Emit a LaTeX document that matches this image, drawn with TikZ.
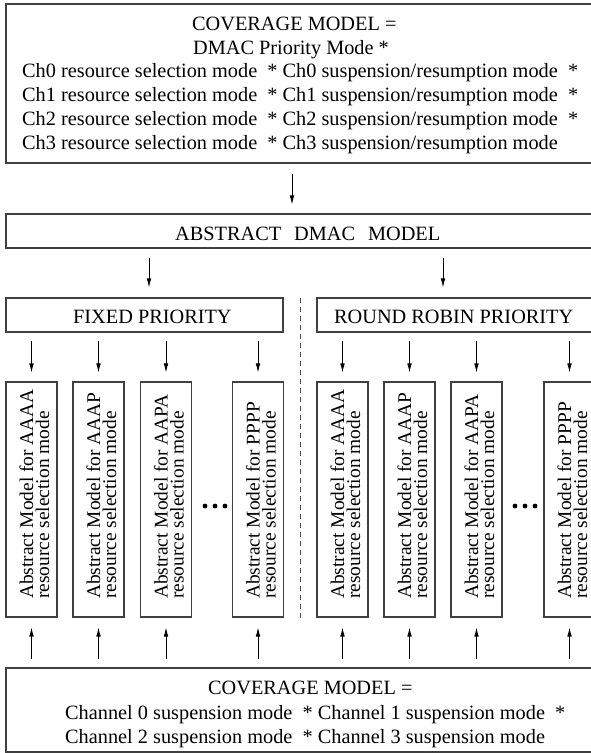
\documentclass[tikz,border=0pt]{standalone}
\usepackage{fontspec}
\setmainfont{Liberation Serif}
\usetikzlibrary{arrows.meta}
\begin{document}
\begin{tikzpicture}[x=1pt,y=-1pt,
  box/.style={draw=black!75, line width=1.1pt, inner sep=0pt, rectangle},
  txt/.style={inner sep=0pt, anchor=base west, font=\fontsize{20.3}{24}\selectfont},
  vtxt/.style={inner sep=0pt, anchor=base west, rotate=90, font=\fontsize{19.4}{22}\selectfont},
  arr/.style={-{Latex[length=9pt,width=4.6pt]}, line width=0.8pt},
  dots/.style={fill=black, circle, inner sep=0pt, minimum size=4.8pt}
]
\useasboundingbox (0,0) rectangle (591,753);
\clip (0,0) rectangle (591,753);

% top coverage model
\node[box, minimum width=594pt, minimum height=159pt] (top) at (303,83.5) {};
\node[txt] (t1) at (192,30) {COVERAGE MODEL =};
\node[txt] (t2) at (193,54) {DMAC Priority Mode *};
\node[txt] (t3) at (22,77) {Ch0 resource selection mode\ \ * Ch0 suspension/resumption mode\ \ *};
\node[txt] (t4) at (22,101) {Ch1 resource selection mode\ \ * Ch1 suspension/resumption mode\ \ *};
\node[txt] (t5) at (22,125) {Ch2 resource selection mode\ \ * Ch2 suspension/resumption mode\ \ *};
\node[txt] (t6) at (22,149) {Ch3 resource selection mode\ \ * Ch3 suspension/resumption mode};

% abstract model
\node[box, minimum width=604pt, minimum height=34pt] (abs) at (308,231) {};
\node[txt] (abst) at (175,240) {ABSTRACT\hspace{13pt}DMAC\hspace{13pt}MODEL};

% priority boxes
\node[box, minimum width=277pt, minimum height=34pt] (fp) at (144.5,315) {};
\node[txt] (fpt) at (73,323) {FIXED PRIORITY};
\node[box, minimum width=283pt, minimum height=34pt] (rr) at (458.5,315) {};
\node[txt] (rrt) at (334,323) {ROUND ROBIN PRIORITY};

% arrow x positions
\coordinate (xa) at (292,0);
\coordinate (xb) at (149,0);
\coordinate (xc) at (443,0);
\draw[arr, shorten <=10pt, shorten >=9pt] (top.south -| xa) -- (abs.north -| xa);
\draw[arr, shorten <=9pt, shorten >=10pt] (abs.south -| xb) -- (fp.north -| xb);
\draw[arr, shorten <=9pt, shorten >=10pt] (abs.south -| xc) -- (rr.north -| xc);

% dashed separator
\coordinate (d1) at (300,298);
\coordinate (d2) at (300,618);
\draw[black!70, line width=0.8pt, dash pattern=on 5pt off 4pt] (d1) -- (d2);

% bottom coverage model
\node[box, minimum width=594pt, minimum height=84pt] (bot) at (303,710) {};
\node[txt] (u1) at (208,694) {COVERAGE MODEL =};
\node[txt] (u2) at (65,719) {Channel 0 suspension mode\ \ * Channel 1 suspension mode\ \ *};
\node[txt] (u3) at (65,743) {Channel 2 suspension mode\ \ * Channel 3 suspension mode};

% small boxes
\foreach \i/\x/\l/\p in {1/31.5/AAAA/fp, 2/98.5/AAAP/fp, 3/166/AAPA/fp, 4/258/PPPP/fp,
                         5/342.5/AAAA/rr, 6/409.5/AAAP/rr, 7/476.5/AAPA/rr, 8/569.5/PPPP/rr} {
  \node[box, minimum width=51pt, minimum height=235pt] (b\i) at (\x,499.5) {};
  \node[vtxt] (la\i) at (\x+1.5,599) {Abstract Model for \l};
  \node[vtxt] (lb\i) at (\x+17.5,599) {resource selection mode};
  \draw[arr, shorten <=8pt, shorten >=9pt] (\p.south -| b\i.north) -- (b\i.north);
  \draw[arr, shorten <=8pt, shorten >=10pt] (bot.north -| b\i.south) -- (b\i.south);
}

% ellipsis dots
\foreach \n/\x in {1/205, 2/215, 3/225, 4/515, 5/525, 6/535} {
  \node[dots] (dot\n) at (\x,506) {};
}
\end{tikzpicture}
\end{document}
